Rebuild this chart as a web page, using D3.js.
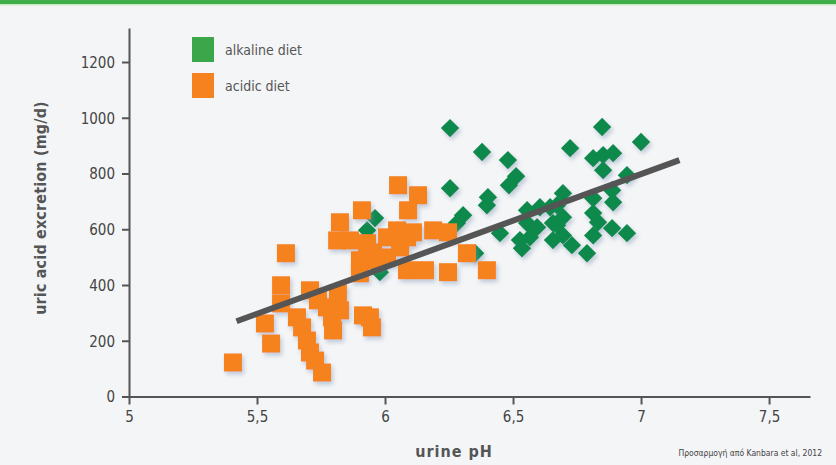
<!DOCTYPE html>
<html>
<head>
<meta charset="utf-8">
<script src="https://cdn.jsdelivr.net/npm/d3@7/dist/d3.min.js"></script>
<style>
  html, body { margin: 0; padding: 0; background: #f4f5f7; }
  svg { display: block; }
  .tick text { font-family: "Liberation Sans Narrow", "DejaVu Sans Condensed", sans-serif; font-size: 15px; fill: #444; }
</style>
</head>
<body>
<svg id="chart" width="836" height="465"></svg>
<script>
// Urine pH vs. uric acid excretion, two diet groups
const acidicPH = [5.406, 5.555, 5.531, 5.613, 5.594, 5.594, 5.656, 5.676, 5.695, 5.707, 5.727, 5.754,
  5.707, 5.738, 5.773, 5.793, 5.797, 5.816, 5.824, 5.914, 5.949, 5.941, 5.902, 5.824, 5.910, 6.051,
  6.129, 6.090, 5.813, 5.863, 5.930, 5.953, 6.008, 6.047, 6.086, 6.109, 6.188, 6.246, 5.953, 6.008,
  6.059, 5.902, 6.086, 6.156, 6.246, 6.320, 6.398];
const acidicUA = [122, 190, 262, 514, 399, 334, 284, 248, 201, 158, 129, 86,
  381, 345, 320, 284, 237, 370, 309, 291, 248, 284, 442, 625, 668, 758,
  722, 668, 560, 560, 550, 517, 571, 596, 571, 589, 596, 589, 489, 499,
  535, 489, 453, 453, 446, 514, 453];

const alkalinePH = [5.961, 5.930, 5.980, 6.305, 6.281, 6.352, 6.254, 6.379, 6.480, 6.512, 6.484, 6.254,
  6.402, 6.398, 6.449, 6.555, 6.605, 6.645, 6.555, 6.594, 6.527, 6.566, 6.656, 6.656, 6.535, 6.695,
  6.672, 6.695, 6.672, 6.695, 6.730, 6.789, 6.723, 6.848, 7.000, 6.813, 6.852, 6.891, 6.852, 6.945,
  6.887, 6.813, 6.891, 6.813, 6.832, 6.813, 6.887, 6.945];
const alkalineUA = [640, 596, 446, 650, 622, 514, 963, 877, 848, 790, 758, 747,
  715, 686, 586, 668, 679, 679, 622, 607, 561, 571, 622, 561, 532, 729,
  686, 643, 614, 578, 543, 514, 891, 967, 913, 855, 866, 873, 812, 794,
  740, 711, 697, 658, 625, 578, 604, 586];

// Linear trend drawn across both groups
const trendPH = [5.42, 7.15];
const trendUA = [270, 848];

const xTicks = [5, 5.5, 6, 6.5, 7, 7.5];
const yTicks = [0, 200, 400, 600, 800, 1000, 1200];

const legendLabels = ["alkaline diet", "acidic diet"];
const xTitle = "urine pH";
const yTitle = "uric acid excretion  (mg/d)";
const sourceNote = "Προσαρμογή από Kanbara et al, 2012";

const COLORS = { alkaline: "#0b8a4c", acidic: "#f5821f", legendGreen: "#3ca64b", axis: "#555", trend: "#555" };
const FONT = "'Liberation Sans Narrow', 'DejaVu Sans Condensed', sans-serif";

const svg = d3.select("#chart");

// background and top band
svg.append("rect").attr("width", 836).attr("height", 465).attr("fill", "#f4f5f7");
svg.append("rect").attr("x", 0).attr("y", 0).attr("width", 836).attr("height", 4).attr("fill", "#3fae4a");
svg.append("rect").attr("x", 0).attr("y", 4).attr("width", 836).attr("height", 1.5).attr("fill", "#c9e8c4");

// soft drop shadow under the markers
const defs = svg.append("defs");
const f = defs.append("filter").attr("id", "shadow").attr("x", "-50%").attr("y", "-50%").attr("width", "200%").attr("height", "200%");
f.append("feDropShadow").attr("dx", 2).attr("dy", 3).attr("stdDeviation", 2)
  .attr("flood-color", "#7f97b3").attr("flood-opacity", 0.45);

const x = d3.scaleLinear().domain([5, 7.66]).range([129, 810]);
const y = d3.scaleLinear().domain([0, 1322]).range([396.5, 28]);

const fmt = d => String(d).replace(".", ",");

// axes
const gx = svg.append("g").attr("transform", `translate(0,${y(0)})`)
  .call(d3.axisBottom(x).tickValues(xTicks).tickFormat(fmt).tickSize(8).tickSizeOuter(0).tickPadding(7));
const gy = svg.append("g").attr("transform", `translate(${x(5)},0)`)
  .call(d3.axisLeft(y).tickValues(yTicks).tickFormat(d => d).tickSize(7).tickSizeOuter(0).tickPadding(7));
[gx, gy].forEach(g => {
  g.select(".domain").attr("stroke", COLORS.axis).attr("stroke-width", 2);
  g.selectAll(".tick line").attr("stroke", COLORS.axis).attr("stroke-width", 2);
});
gy.selectAll(".tick text").attr("dy", "0.35em");

// alkaline diet: diamonds
const dSide = 13;
const alkaline = alkalinePH.map((v, i) => ({ ph: v, ua: alkalineUA[i] }));
svg.append("g").attr("filter", "url(#shadow)")
  .selectAll("rect").data(alkaline).join("rect")
  .attr("x", -dSide / 2).attr("y", -dSide / 2).attr("width", dSide).attr("height", dSide)
  .attr("transform", d => `translate(${x(d.ph)},${y(d.ua)}) rotate(45)`)
  .attr("fill", COLORS.alkaline);

// acidic diet: squares
const sSide = 18;
const acidic = acidicPH.map((v, i) => ({ ph: v, ua: acidicUA[i] }));
svg.append("g").attr("filter", "url(#shadow)")
  .selectAll("rect").data(acidic).join("rect")
  .attr("x", d => x(d.ph) - sSide / 2).attr("y", d => y(d.ua) - sSide / 2)
  .attr("width", sSide).attr("height", sSide)
  .attr("fill", COLORS.acidic);

// trend line
svg.append("line")
  .attr("x1", x(trendPH[0])).attr("y1", y(trendUA[0]))
  .attr("x2", x(trendPH[1])).attr("y2", y(trendUA[1]))
  .attr("stroke", COLORS.trend).attr("stroke-width", 6).attr("stroke-linecap", "butt");

// legend
const legend = svg.append("g").attr("transform", "translate(192,37)");
const legendColors = [COLORS.legendGreen, COLORS.acidic];
legendLabels.forEach((lab, i) => {
  const g = legend.append("g").attr("transform", `translate(0,${i * 36})`);
  g.append("rect").attr("width", 22).attr("height", 25).attr("fill", legendColors[i]);
  g.append("text").attr("x", 33).attr("y", 18)
    .attr("font-family", FONT).attr("font-size", 14).attr("fill", "#555")
    .text(lab);
});

// axis titles
svg.append("text").attr("x", 454).attr("y", 457).attr("text-anchor", "middle")
  .attr("font-family", FONT).attr("font-size", 16).attr("font-weight", "bold")
  .attr("letter-spacing", 1).attr("fill", "#555")
  .text(xTitle);
svg.append("text").attr("transform", "translate(46,208) rotate(-90)").attr("text-anchor", "middle")
  .attr("font-family", FONT).attr("font-size", 16).attr("font-weight", "bold")
  .attr("letter-spacing", 0.15).attr("fill", "#555")
  .text(yTitle);

// source note
svg.append("text").attr("x", 822).attr("y", 456).attr("text-anchor", "end")
  .attr("font-family", FONT).attr("font-size", 8.5).attr("fill", "#444")
  .text(sourceNote);
</script>
</body>
</html>
